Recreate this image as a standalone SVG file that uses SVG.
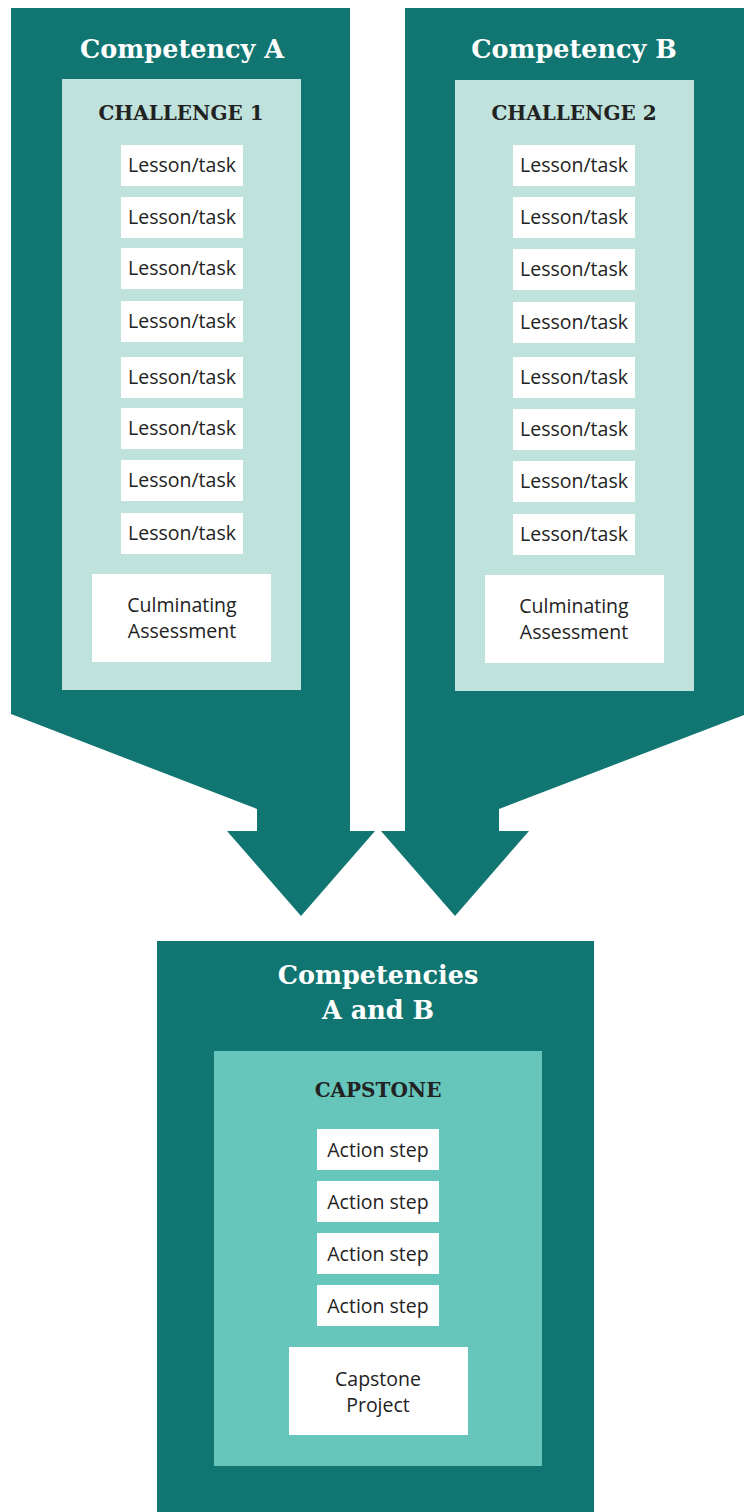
<svg xmlns="http://www.w3.org/2000/svg" width="744" height="1512" viewBox="0 0 744 1512">
<style>
.dark{fill:#117671}
.light{fill:#BFE2DC}
.mid{fill:#66C6BC}
.box{fill:#ffffff}
.title{font-family:"DejaVu Serif","Liberation Serif",serif;font-weight:bold;font-size:25.5px;fill:#ffffff;text-anchor:middle}
.head{font-family:"DejaVu Serif","Liberation Serif",serif;font-weight:bold;font-size:20px;fill:#222222;text-anchor:middle}
.lbl{font-family:"Open Sans","Noto Sans",sans-serif;font-size:19.5px;fill:#222222;text-anchor:middle}
</style>
<rect width="744" height="1512" fill="#ffffff"/>
<g id="connectors">
<polygon class="dark" points="11,8 350,8 350,831 375,831 301,916 227,831 257,831 257,809 11,714"/>
<polygon class="dark" points="405,8 744,8 744,715 499,809 499,831 529,831 455,916 381,831 405,831"/>
</g>
<g id="competencyA">
<text class="title" x="182" y="58">Competency A</text>
<rect class="light" x="62" y="79" width="239" height="611"/>
<text class="head" x="181" y="120">CHALLENGE 1</text>
<g id="challenge1-tasks">
<rect class="box" x="121" y="145" width="122" height="41"/><text class="lbl" x="182" y="172">Lesson/task</text>
<rect class="box" x="121" y="197" width="122" height="41"/><text class="lbl" x="182" y="224">Lesson/task</text>
<rect class="box" x="121" y="248" width="122" height="41"/><text class="lbl" x="182" y="275">Lesson/task</text>
<rect class="box" x="121" y="301" width="122" height="41"/><text class="lbl" x="182" y="328">Lesson/task</text>
<rect class="box" x="121" y="357" width="122" height="41"/><text class="lbl" x="182" y="384">Lesson/task</text>
<rect class="box" x="121" y="408" width="122" height="41"/><text class="lbl" x="182" y="435">Lesson/task</text>
<rect class="box" x="121" y="460" width="122" height="41"/><text class="lbl" x="182" y="487">Lesson/task</text>
<rect class="box" x="121" y="513" width="122" height="41"/><text class="lbl" x="182" y="540">Lesson/task</text>
</g>
<rect class="box" x="92" y="574" width="179" height="88"/>
<text class="lbl" x="182" y="612">Culminating</text>
<text class="lbl" x="182" y="638">Assessment</text>
</g>
<g id="competencyB">
<text class="title" x="574" y="58">Competency B</text>
<rect class="light" x="455" y="80" width="239" height="611"/>
<text class="head" x="574" y="120">CHALLENGE 2</text>
<g id="challenge2-tasks">
<rect class="box" x="513" y="145" width="122" height="41"/><text class="lbl" x="574" y="172">Lesson/task</text>
<rect class="box" x="513" y="197" width="122" height="41"/><text class="lbl" x="574" y="224">Lesson/task</text>
<rect class="box" x="513" y="249" width="122" height="41"/><text class="lbl" x="574" y="276">Lesson/task</text>
<rect class="box" x="513" y="302" width="122" height="41"/><text class="lbl" x="574" y="329">Lesson/task</text>
<rect class="box" x="513" y="357" width="122" height="41"/><text class="lbl" x="574" y="384">Lesson/task</text>
<rect class="box" x="513" y="409" width="122" height="41"/><text class="lbl" x="574" y="436">Lesson/task</text>
<rect class="box" x="513" y="461" width="122" height="41"/><text class="lbl" x="574" y="488">Lesson/task</text>
<rect class="box" x="513" y="514" width="122" height="41"/><text class="lbl" x="574" y="541">Lesson/task</text>
</g>
<rect class="box" x="485" y="575" width="179" height="88"/>
<text class="lbl" x="574" y="613">Culminating</text>
<text class="lbl" x="574" y="639">Assessment</text>
</g>
<g id="competenciesAB">
<rect class="dark" x="157" y="941" width="437" height="571"/>
<text class="title" x="378" y="984">Competencies</text>
<text class="title" x="378" y="1019">A and B</text>
<rect class="mid" x="214" y="1051" width="328" height="415"/>
<text class="head" x="378" y="1097">CAPSTONE</text>
<g id="capstone-steps">
<rect class="box" x="317" y="1129" width="122" height="41"/><text class="lbl" x="378" y="1157">Action step</text>
<rect class="box" x="317" y="1181" width="122" height="41"/><text class="lbl" x="378" y="1209">Action step</text>
<rect class="box" x="317" y="1233" width="122" height="41"/><text class="lbl" x="378" y="1261">Action step</text>
<rect class="box" x="317" y="1285" width="122" height="41"/><text class="lbl" x="378" y="1313">Action step</text>
</g>
<rect class="box" x="289" y="1347" width="179" height="88"/>
<text class="lbl" x="378" y="1386">Capstone</text>
<text class="lbl" x="378" y="1412">Project</text>
</g>
</svg>
